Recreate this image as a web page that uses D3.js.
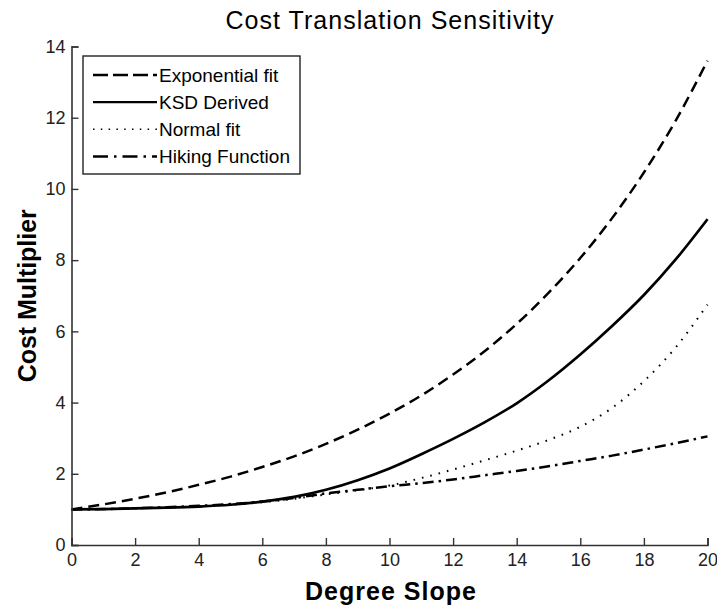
<!DOCTYPE html>
<html>
<head>
<meta charset="utf-8">
<script src="https://cdn.jsdelivr.net/npm/d3@7"></script>
<style>
  html, body { margin: 0; padding: 0; background: #fff; }
  svg { display: block; font-family: "Liberation Sans", Arial, Helvetica, sans-serif; }
</style>
</head>
<body>
<svg id="chart" width="717" height="608"></svg>
<script>
// Slope in degrees
const degrees = [0,1,2,3,4,5,6,7,8,9,10,11,12,13,14,15,16,17,18,19,20];

// Cost multiplier per slope for each model
const exponentialFit = [1.00,1.14,1.30,1.48,1.69,1.92,2.19,2.49,2.84,3.24,3.69,4.20,4.79,5.45,6.21,7.08,8.06,9.18,10.46,11.92,13.60];
const ksdDerived     = [1.00,1.01,1.03,1.05,1.08,1.13,1.22,1.35,1.55,1.82,2.15,2.55,2.98,3.45,3.98,4.62,5.35,6.15,7.02,8.02,9.15];
const normalFit      = [1.00,1.01,1.03,1.05,1.08,1.13,1.20,1.30,1.42,1.54,1.67,1.88,2.12,2.38,2.65,2.95,3.32,3.85,4.60,5.55,6.75];
const hikingFunction = [1.00,1.01,1.03,1.06,1.10,1.15,1.22,1.32,1.45,1.55,1.65,1.74,1.84,1.96,2.08,2.21,2.36,2.51,2.68,2.86,3.05];

const seriesNames = ["Exponential fit", "KSD Derived", "Normal fit", "Hiking Function"];
const xTicks = [0,2,4,6,8,10,12,14,16,18,20];
const yTicks = [0,2,4,6,8,10,12,14];

const series = [
  { name: seriesNames[0], values: exponentialFit, dash: "11,6",       width: 2.5 },
  { name: seriesNames[1], values: ksdDerived,     dash: null,         width: 2.7 },
  { name: seriesNames[2], values: normalFit,      dash: "1.6,7",      width: 2.0 },
  { name: seriesNames[3], values: hikingFunction, dash: "11,5,2.5,5", width: 2.5 }
];

const svg = d3.select("#chart");
const plotLeft = 71.5, plotRight = 707.5, plotTop = 46.5, plotBottom = 545;

const x = d3.scaleLinear().domain([0, 20]).range([plotLeft, plotRight]);
const y = d3.scaleLinear().domain([0, 14]).range([plotBottom, plotTop]);

// Title
svg.append("text")
  .attr("x", (plotLeft + plotRight) / 2).attr("y", 29)
  .attr("text-anchor", "middle")
  .attr("font-size", 25)
  .attr("textLength", 328).attr("lengthAdjust", "spacing")
  .attr("fill", "#000")
  .text("Cost Translation Sensitivity");

// Curves
const line = d3.line()
  .x((d, i) => x(degrees[i]))
  .y(d => y(d))
  .curve(d3.curveMonotoneX);

svg.append("g").selectAll("path")
  .data(series)
  .join("path")
  .attr("d", d => line(d.values))
  .attr("fill", "none")
  .attr("stroke", "#000")
  .attr("stroke-width", d => d.width)
  .attr("stroke-dasharray", d => d.dash)
  .attr("stroke-linecap", "butt");

// Axes with inward ticks
const xAxis = svg.append("g")
  .attr("transform", `translate(0,${plotBottom})`)
  .call(d3.axisBottom(x).tickValues(xTicks).tickSize(-7).tickPadding(8).tickFormat(d3.format("d")));
const yAxis = svg.append("g")
  .attr("transform", `translate(${plotLeft},0)`)
  .call(d3.axisLeft(y).tickValues(yTicks).tickSize(-7).tickPadding(6).tickFormat(d3.format("d")));

[xAxis, yAxis].forEach(g => {
  g.select(".domain").attr("stroke", "#333").attr("stroke-width", 1.6);
  g.selectAll(".tick line").attr("stroke", "#333").attr("stroke-width", 1.4);
  g.selectAll(".tick text")
    .attr("fill", "#222")
    .attr("font-size", 18)
    .attr("font-family", "'Liberation Sans', Arial, sans-serif");
});

// Axis titles
svg.append("text")
  .attr("x", (plotLeft + plotRight) / 2 + 1).attr("y", 600)
  .attr("text-anchor", "middle")
  .attr("font-size", 25).attr("font-weight", "bold")
  .attr("textLength", 171).attr("lengthAdjust", "spacing")
  .text("Degree Slope");

svg.append("text")
  .attr("transform", `translate(36,${(plotTop + plotBottom) / 2}) rotate(-90)`)
  .attr("text-anchor", "middle")
  .attr("font-size", 25).attr("font-weight", "bold")
  .attr("textLength", 173).attr("lengthAdjust", "spacing")
  .text("Cost Multiplier");

// Legend
const legend = svg.append("g");
legend.append("rect")
  .attr("x", 83).attr("y", 56).attr("width", 217).attr("height", 118)
  .attr("fill", "#fff").attr("stroke", "#222").attr("stroke-width", 1.4);

const rowY = d3.scalePoint().domain(seriesNames).range([75, 156.5]);

const rows = legend.selectAll("g.row")
  .data(series)
  .join("g")
  .attr("class", "row")
  .attr("transform", d => `translate(0,${rowY(d.name)})`);

rows.append("line")
  .attr("x1", 93).attr("x2", 157)
  .attr("stroke", "#000")
  .attr("stroke-width", d => d.name === "Normal fit" ? 1.5 : 2.4)
  .attr("stroke-dasharray", d => d.name === "Exponential fit" ? "15,5" : d.name === "Normal fit" ? "1.5,6.3" : d.name === "Hiking Function" ? "15,6,2.5,6" : null);

rows.append("text")
  .attr("x", 159).attr("dy", "0.36em")
  .attr("font-size", 19)
  .attr("fill", "#000")
  .text(d => d.name);
</script>
</body>
</html>
